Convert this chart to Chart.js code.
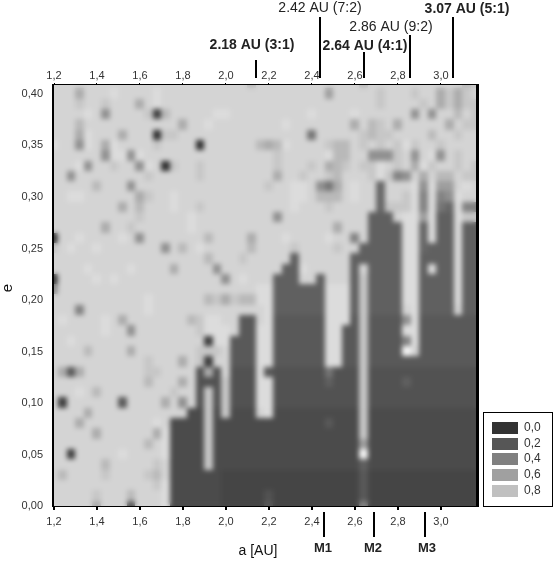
<!DOCTYPE html>
<html><head><meta charset="utf-8">
<style>html,body{margin:0;padding:0;background:#fff}#w{position:relative;width:554px;height:568px}</style>
<script src="https://cdn.jsdelivr.net/npm/chart.js@4"></script></head>
<body><div id="w"><canvas id="c" width="554" height="568"></canvas></div>
<script>
const xTicks=[1.2,1.4,1.6,1.8,2.0,2.2,2.4,2.6,2.8,3.0];
const yTicks=[0,0.05,0.10,0.15,0.20,0.25,0.30,0.35,0.40];
const gridA=[1.2,1.24,1.28,1.32,1.36,1.4,1.44,1.48,1.52,1.56,1.6,1.64,1.68,1.72,1.76,1.8,1.84,1.88,1.92,1.96,2.0,2.04,2.08,2.12,2.16,2.2,2.24,2.28,2.32,2.36,2.4,2.44,2.48,2.52,2.56,2.6,2.64,2.68,2.72,2.76,2.8,2.84,2.88,2.92,2.96,3.0,3.04,3.08,3.12,3.16];
const gridE=[0.41,0.40,0.39,0.38,0.37,0.36,0.35,0.34,0.33,0.32,0.31,0.30,0.29,0.28,0.27,0.26,0.25,0.24,0.23,0.22,0.21,0.20,0.19,0.18,0.17,0.16,0.15,0.14,0.13,0.12,0.11,0.10,0.09,0.08,0.07,0.06,0.05,0.04,0.03,0.02,0.01,0.00];
const legendLabels=['0,0','0,2','0,4','0,6','0,8'];
const legendColors=['#333333','#565656','#808080','#a0a0a0','#c0c0c0'];
const resonanceLabels=['2.18 AU (3:1)','2.42 AU (7:2)','2.64 AU (4:1)','2.86 AU (9:2)','3.07 AU (5:1)'];
const resonanceA=[2.14,2.437,2.642,2.856,3.056];
const moonLabels=['M1','M2','M3'];
const moonA=[2.456,2.688,2.926];
const e41=[12,12,12,12,12,12,12,12,12,12, 12,12,12,12,12,12,12,12,12,12, 12,12,12,10,12,12,12,12,12,12, 12,12,12,12,12,12,10,12,12,12, 12,12,12,12,12,12,12,12,10,11];
const e40=[12,12,12,9,12,12,12,13,12,12, 12,12,13,12,12,12,12,12,12,12, 12,12,12,12,12,12,12,12,12,12, 12,12,8,12,12,12,12,12,11,12, 12,12,11,12,12,9,11,9,11,12];
const e39=[12,12,12,11,12,12,11,12,12,12, 9,12,13,12,12,12,12,12,12,12, 12,12,12,12,12,12,12,12,12,12, 12,12,12,12,12,12,12,12,11,12, 12,12,12,11,12,9,11,9,11,11];
const e38=[12,12,12,12,13,12,7,12,12,12, 12,11,1,10,12,12,12,12,12,13, 13,12,12,12,12,12,12,12,12,12, 13,12,12,12,12,13,12,12,12,12, 12,12,7,12,7,12,12,10,12,11];
const e37=[12,12,12,10,12,12,12,12,12,12, 12,12,12,12,12,9,12,12,13,12, 12,12,12,12,12,12,12,13,12,12, 12,12,12,12,12,9,12,10,11,12, 9,12,12,12,12,12,9,12,11,11];
const e36=[12,12,12,9,13,12,12,12,9,12, 12,12,0,11,11,12,12,12,12,12, 12,12,12,12,12,12,12,12,12,12, 5,12,12,12,12,12,11,10,11,11, 12,12,12,12,10,12,12,11,12,12];
const e35=[13,12,12,7,13,12,9,13,12,12, 12,12,11,12,12,12,12,0,12,12, 12,12,12,12,10,9,10,13,12,12, 12,12,11,10,10,12,11,12,11,12, 11,13,11,12,12,11,12,12,12,12];
const e34=[12,12,12,12,12,12,7,13,13,7, 13,12,12,12,12,12,12,12,12,12, 12,12,12,12,12,12,11,12,12,12, 12,12,13,10,10,12,12,7,7,7, 11,12,7,12,13,7,12,11,12,12];
const e33=[12,12,12,13,7,12,12,11,12,12, 7,13,12,0,11,12,12,11,12,12, 12,12,12,12,12,12,11,12,12,12, 11,12,9,10,11,12,11,11,13,12, 11,12,9,13,11,12,12,11,12,11];
const e32=[12,12,7,12,12,12,12,12,12,12, 12,11,12,12,12,12,12,11,12,12, 12,12,12,12,12,12,9,12,12,11, 12,12,11,10,12,12,12,11,13,11, 6,7,12,9,12,10,10,12,11,11];
const e31=[12,12,12,12,12,10,12,12,12,7, 12,12,12,12,12,12,12,12,12,12, 12,12,12,12,12,11,12,12,13,13, 12,7,5,9,12,13,12,12,4,12, 12,12,13,7,13,8,8,12,13,12];
const e30=[12,12,13,13,12,12,12,12,12,12, 9,11,12,12,13,12,12,12,12,12, 12,12,12,12,12,12,12,12,13,13, 12,10,10,10,12,13,12,12,4,12, 12,11,13,6,13,6,7,13,12,12];
const e29=[12,12,12,12,12,12,12,12,9,12, 10,12,12,12,13,12,12,11,12,12, 12,12,12,12,12,12,12,12,13,12, 12,12,11,12,12,12,12,12,4,11, 11,11,13,6,13,5,4,13,6,6];
const e28=[12,12,12,12,12,12,12,12,12,12, 11,12,12,12,12,12,13,12,12,12, 12,12,12,12,12,12,7,12,12,12, 12,12,12,12,12,12,12,3.5,3.5,3.5, 12,13,13,8,13,3.5,3.5,13,11,11];
const e27=[12,12,12,12,12,12,9,12,12,11, 12,12,12,12,12,12,13,12,12,12, 12,12,12,12,12,12,12,12,12,12, 12,12,12,9,12,12,12,3.5,3.5,3.5, 3.5,13,13,4,13,3.5,3.5,13,3.5,3.5];
const e26=[1,12,12,13,12,12,12,12,13,12, 7,12,12,12,12,12,12,12,10,12, 12,12,12,9,12,12,12,13,12,12, 12,12,13,12,12,6,12,3.5,3.5,3.5, 3.5,13,13,4,13,3.5,3.5,13,3.5,3.5];
const e25=[11,12,13,12,12,13,12,12,12,12, 12,12,12,7,12,10,12,13,12,12, 12,12,12,10,12,12,12,12,11,12, 12,12,12,11,12,12,3.5,3.5,3.5,3.5, 3.5,13,13,4,3.5,3.5,3.5,13,3.5,3.5];
const e24=[12,12,12,12,12,12,12,12,12,12, 12,12,12,12,12,12,12,12,10,12, 12,12,11,12,12,12,12,12,3.5,12, 12,12,12,12,12,3.5,3.5,3.5,3.5,3.5, 3.5,13,13,3.5,3.5,3.5,3.5,13,3.5,3.5];
const e23=[12,12,12,12,13,12,12,12,12,13, 12,12,12,12,9,12,12,12,12,7, 12,12,12,12,12,12,12,3.5,3.5,13, 12,12,12,12,12,3.5,12,3.5,3.5,3.5, 3.5,13,13,3.5,13,3.5,3.5,13,3.5,3.5];
const e22=[1,12,12,12,12,13,12,13,12,12, 12,12,12,12,12,12,12,12,12,12, 7,12,13,12,12,12,3.5,3.5,3.5,12, 12,3.5,12,12,12,3.5,11,3.5,3.5,3.5, 3.5,13,13,3.5,3.5,3.5,3.5,13,3.5,3.5];
const e21=[7,12,12,12,12,12,12,12,12,12, 12,12,12,12,12,12,12,12,12,12, 12,12,12,12,13,13,3.5,3.5,3.5,3.5, 3.5,3.5,13,13,13,3.5,11,3.5,3.5,3.5, 3.5,13,13,3.5,3.5,3.5,3.5,13,3.5,3.5];
const e20=[12,12,12,12,12,12,12,12,12,12, 12,13,12,12,12,12,12,12,10,11, 9,11,10,10,13,13,3.5,3.5,3.5,3.5, 3.5,3.5,13,13,13,3.5,11,3.5,3.5,3.5, 3.5,13,13,3.5,3.5,3.5,3.5,13,3.5,3.5];
const e19=[12,12,12,6,12,12,12,12,12,12, 12,13,12,12,12,12,12,12,12,12, 12,12,12,12,12,13,3.5,3.5,3.5,3.5, 3.5,3.5,13,13,13,3.5,11,3.5,3.5,3.5, 3.5,12,13,3.5,3.5,3.5,3.5,12,3.5,3.5];
const e18=[12,13,12,12,12,12,13,12,9,12, 12,12,12,12,12,12,10,11,13,13, 12,12,3,3,12,13,3,3,3,3, 3,3,13,13,13,3,11,3,3,3, 3,7,13,3,3,3,3,3,3,3];
const e17=[12,12,12,12,12,12,13,12,12,7, 12,12,12,12,12,12,12,11,13,13, 13,12,3,3,13,13,3,3,3,3, 3,3,13,13,3,3,11,3,3,3, 3,13,13,3,3,3,3,3,3,3];
const e16=[12,12,13,12,12,12,12,12,12,12, 12,12,12,12,12,12,12,12,1,13, 13,3,3,3,13,13,3,3,3,3, 3,3,13,13,3,3,11,3,3,3, 3,6,13,3,3,3,3,3,3,3];
const e15=[12,12,12,12,10,12,12,12,12,9, 12,12,12,12,12,12,12,11,11,11, 12,3,3,3,13,13,3,3,3,3, 3,3,13,13,3,3,11,3,3,3, 3,14,12,3,3,3,3,3,3,3];
const e14=[12,12,12,12,12,12,12,12,12,12, 12,11,12,12,12,9,12,11,1,12, 12,3,3,3,13,13,3,3,3,3, 3,3,13,13,3,3,11,3,3,3, 3,3,3,3,3,3,3,3,3,3];
const e13=[12,9,3,9,12,12,12,12,12,12, 12,11,11,12,12,12,12,2.5,9,2.5, 12,2.5,2.5,2.5,13,3,2.5,2.5,2.5,2.5, 2.5,2.5,5,2.5,2.5,2.5,11,2.5,2.5,2.5, 2.5,2.5,2.5,2.5,2.5,2.5,2.5,2.5,2.5,2.5];
const e12=[12,12,12,12,12,12,12,12,12,12, 12,10,12,12,12,9,12,2.5,2.5,2.5, 11,2.5,2.5,2.5,13,13,2.5,2.5,2.5,2.5, 2.5,2.5,3.5,2.5,2.5,2.5,11,2.5,2.5,2.5, 2.5,3.5,2.5,2.5,2.5,2.5,2.5,2.5,2.5,2.5];
const e11=[12,12,12,13,12,10,12,12,12,12, 12,12,12,12,11,12,12,2.5,11,2.5, 11,2.5,2.5,2.5,13,13,2.5,2.5,2.5,2.5, 2.5,2.5,2.5,2.5,2.5,2.5,11,2.5,2.5,2.5, 2.5,2.5,2.5,2.5,2.5,2.5,2.5,2.5,2.5,2.5];
const e10=[12,1,12,12,12,12,12,12,3,12, 12,12,12,9,12,7,12,2.5,11,2.5, 11,2.5,2.5,2.5,13,13,2.5,2.5,2.5,2.5, 2.5,2.5,2.5,2.5,2.5,2.5,11,2.5,2.5,2.5, 2.5,2.5,2.5,2.5,2.5,2.5,2.5,2.5,2.5,2.5];
const e09=[12,12,12,12,9,12,12,12,12,12, 12,12,12,12,12,12,2,2,11,2, 11,2,2,2,12,13,2,2,2,2, 2,2,2,2,2,2,11,2,2,2, 2,2,2,2,2,2,2,2,2,2];
const e08=[12,12,12,9,12,12,12,12,12,12, 12,12,13,12,2,2,2,2,11,2, 2,2,2,2,2,2,2,2,2,2, 2,2,3,2,2,2,11,2,2,2, 2,2,2,2,2,2,2,2,2,2];
const e07=[12,12,12,12,12,9,12,12,12,12, 12,12,9,13,2,2,2,2,11,2, 2,2,2,2,2,2,2,2,2,2, 2,2,2,2,2,2,11,2,2,2, 2,2,2,2,2,2,2,2,2,2];
const e06=[12,12,12,12,12,12,12,12,12,12, 12,10,12,13,2,2,2,2,11,2, 2,2,2,2,2,2,2,2,2,2, 2,2,2,2,2,2,8,2,2,2, 2,2,2,2,2,2,2,2,2,2];
const e05=[12,12,1,12,12,12,12,12,13,12, 12,12,12,13,2,2,2,2,11,2, 2,2,2,2,2,2,2,2,2,2, 2,2,2,2,2,2,14,2,2,2, 2,2,2,2,2,2,2,2,2,2];
const e04=[12,12,12,12,12,12,10,12,12,12, 12,12,11,12,2,2,2,2,11,2, 2,2,2,2,2,2,2,2,2,2, 2,2,2,2,2,2,3.5,2,2,2, 2,2,2,2,2,2,2,2,2,2];
const e03=[12,10,12,12,12,12,11,12,12,12, 12,11,10,12,2,2,2,2,2,2, 1.5,1.5,1.5,1.5,1.5,1.5,1.5,1.5,1.5,1.5, 1.5,1.5,1.5,1.5,1.5,1.5,3,1.5,1.5,1.5, 1.5,1.5,1.5,1.5,1.5,1.5,1.5,1.5,1.5,1.5];
const e02=[12,12,12,12,12,12,12,12,12,12, 12,12,11,13,2,2,2,2,2,2, 1.5,1.5,1.5,1.5,1.5,1.5,1.5,1.5,1.5,1.5, 1.5,1.5,1.5,1.5,1.5,1.5,3,1.5,1.5,1.5, 1.5,1.5,1.5,1.5,1.5,1.5,1.5,1.5,1.5,1.5];
const e01=[12,12,12,12,12,11,12,12,12,10, 12,12,12,13,2,2,2,2,2,2, 1.5,1.5,1.5,1.5,1.5,2.5,1.5,1.5,1.5,1.5, 1.5,1.5,1.5,1.5,1.5,1.5,3,1.5,1.5,1.5, 1.5,1.5,1.5,1.5,1.5,1.5,1.5,1.5,1.5,1.5];
const e00=[12,12,12,12,12,9,12,12,12,3, 12,12,12,13,2,2,2,2,2,2, 1.5,1.5,1.5,1.5,1.5,3,1.5,1.5,1.5,1.5, 1.5,1.5,1.5,1.5,1.5,1.5,6,1.5,1.5,1.5, 1.5,1.5,1.5,1.5,1.5,1.5,1.5,1.5,1.5,1.5];
const levelRows=[e41,e40,e39,e38,e37,e36,e35,e34,e33,e32,e31,e30,e29,e28,e27,e26,e25,e24,e23,e22,e21,e20,e19,e18,e17,e16,e15,e14,e13,e12,e11,e10,e09,e08,e07,e06,e05,e04,e03,e02,e01,e00];

function grayFor(v){const g=Math.round(v<=12?48+13.7*v:212+8*(v-12)*(v-12));return `rgb(${g},${g},${g})`;}
const sprites={};
function spriteFor(v){
  if(!sprites[v]){const c=document.createElement('canvas');c.width=9;c.height=11;const x=c.getContext('2d');x.fillStyle=grayFor(v);x.fillRect(0,0,9,11);sprites[v]=c;}
  return sprites[v];
}
const cells=[];
levelRows.forEach((row,r)=>row.forEach((v,i)=>cells.push({x:gridA[i],y:gridE[r],v})));

const fontFam='"Liberation Sans",Arial,sans-serif';
const extras={
  id:'extras',
  beforeDatasetsDraw(ch){const {ctx,chartArea:a}=ch;ctx.save();ctx.fillStyle=grayFor(12);ctx.fillRect(a.left,a.top,a.right-a.left,a.bottom-a.top);ctx.restore();},
  afterDatasetsDraw(ch){
    const {ctx,chartArea:a,canvas}=ch;const w=a.right-a.left,h=a.bottom-a.top;
    ctx.save();ctx.beginPath();ctx.rect(a.left,a.top,w,h);ctx.clip();
    ctx.filter='blur(2.5px)';
    ctx.drawImage(canvas,a.left,a.top,w,h,a.left,a.top,w,h);
    ctx.restore();
  },
  afterDraw(ch){
    const {ctx,chartArea:a,scales}=ch;const X=scales.x;
    ctx.save();
    ctx.fillStyle='#000';
    ctx.fillRect(a.left-2,a.top-1,2,a.bottom-a.top+2);
    ctx.fillRect(a.right,a.top-1,3,a.bottom-a.top+2);
    ctx.fillRect(a.left-2,a.top-1,a.right-a.left+4,1);
    ctx.fillRect(a.left-2,a.bottom,a.right-a.left+4,1);
    const topEnd=[60,17,52,35,17];
    const lblPos=[[252,45],[320,8],[365,46],[391,27],[467,9]];
    const bold=[true,false,true,false,true];
    ctx.textAlign='center';ctx.textBaseline='middle';
    resonanceLabels.forEach((t,i)=>{
      const x=X.getPixelForValue(resonanceA[i]);
      ctx.fillRect(Math.round(x)-1,topEnd[i],2,78-topEnd[i]);
      ctx.fillStyle='#222';
      ctx.font=(bold[i]?'bold 14px ':'14px ')+fontFam;
      ctx.fillText(t,lblPos[i][0],lblPos[i][1]);
      ctx.fillStyle='#000';
    });
    const mX=[323,373,427];
    moonLabels.forEach((t,i)=>{
      const x=X.getPixelForValue(moonA[i]);
      ctx.fillRect(Math.round(x)-1,512,2,25);
      ctx.fillStyle='#222';ctx.font='bold 13px '+fontFam;
      ctx.fillText(t,mX[i],548);ctx.fillStyle='#000';
    });
    ctx.fillStyle='#111';ctx.font='14px '+fontFam;
    ctx.fillText('a [AU]',258,551);
    ctx.save();ctx.translate(8,288);ctx.rotate(-Math.PI/2);ctx.font='15px '+fontFam;ctx.fillText('e',0,0);ctx.restore();
    ctx.fillStyle='#fff';ctx.fillRect(483,413,70,94);
    ctx.strokeStyle='#000';ctx.lineWidth=1;ctx.strokeRect(483.5,412.5,69,94);
    const sy=[422,438,453,469,485];
    ctx.textAlign='left';ctx.font='12px '+fontFam;
    legendLabels.forEach((t,i)=>{
      ctx.fillStyle=legendColors[i];ctx.fillRect(492,sy[i],26,12);
      ctx.fillStyle='#333';ctx.fillText(t,524,sy[i]+6);
    });
    ctx.restore();
  }
};
const tickFont={family:fontFam,size:11};
new Chart(document.getElementById('c'),{
  type:'scatter',
  data:{datasets:[{data:cells,pointStyle:c=>spriteFor(c.raw.v),pointRadius:6,pointBorderWidth:0,pointHoverRadius:6}]},
  plugins:[extras],
  options:{
    responsive:false,animation:false,events:[],
    layout:{padding:{left:0,right:78,top:0,bottom:0}},
    plugins:{legend:{display:false},tooltip:{enabled:false}},
    scales:{
      x:{type:'linear',position:'bottom',min:1.2,max:3.163,
        afterFit(s){s.height=62;},
        afterBuildTicks(s){s.ticks=xTicks.map(v=>({value:v}));},
        border:{display:false},
        grid:{display:true,drawOnChartArea:false,drawTicks:true,tickLength:4,color:'#000',lineWidth:2},
        ticks:{font:tickFont,color:'#333',padding:5,maxRotation:0,autoSkip:false,callback:v=>v.toFixed(1).replace('.',',')}},
      xTop:{type:'linear',position:'top',min:1.2,max:3.163,
        afterFit(s){s.height=85;},
        afterBuildTicks(s){s.ticks=xTicks.map(v=>({value:v}));},
        border:{display:false},
        grid:{display:true,drawOnChartArea:false,drawTicks:true,tickLength:2,color:'#000'},
        ticks:{font:tickFont,color:'#333',padding:0,maxRotation:0,autoSkip:false,callback:v=>v.toFixed(1).replace('.',',')}},
      y:{type:'linear',position:'left',min:0,max:0.4087,
        afterFit(s){s.width=54;},
        afterBuildTicks(s){s.ticks=yTicks.map(v=>({value:v}));},
        border:{display:false},
        grid:{display:false},
        ticks:{font:tickFont,color:'#333',padding:3,autoSkip:false,callback:v=>v.toFixed(2).replace('.',',')}}
    }
  }
});
</script></body></html>
